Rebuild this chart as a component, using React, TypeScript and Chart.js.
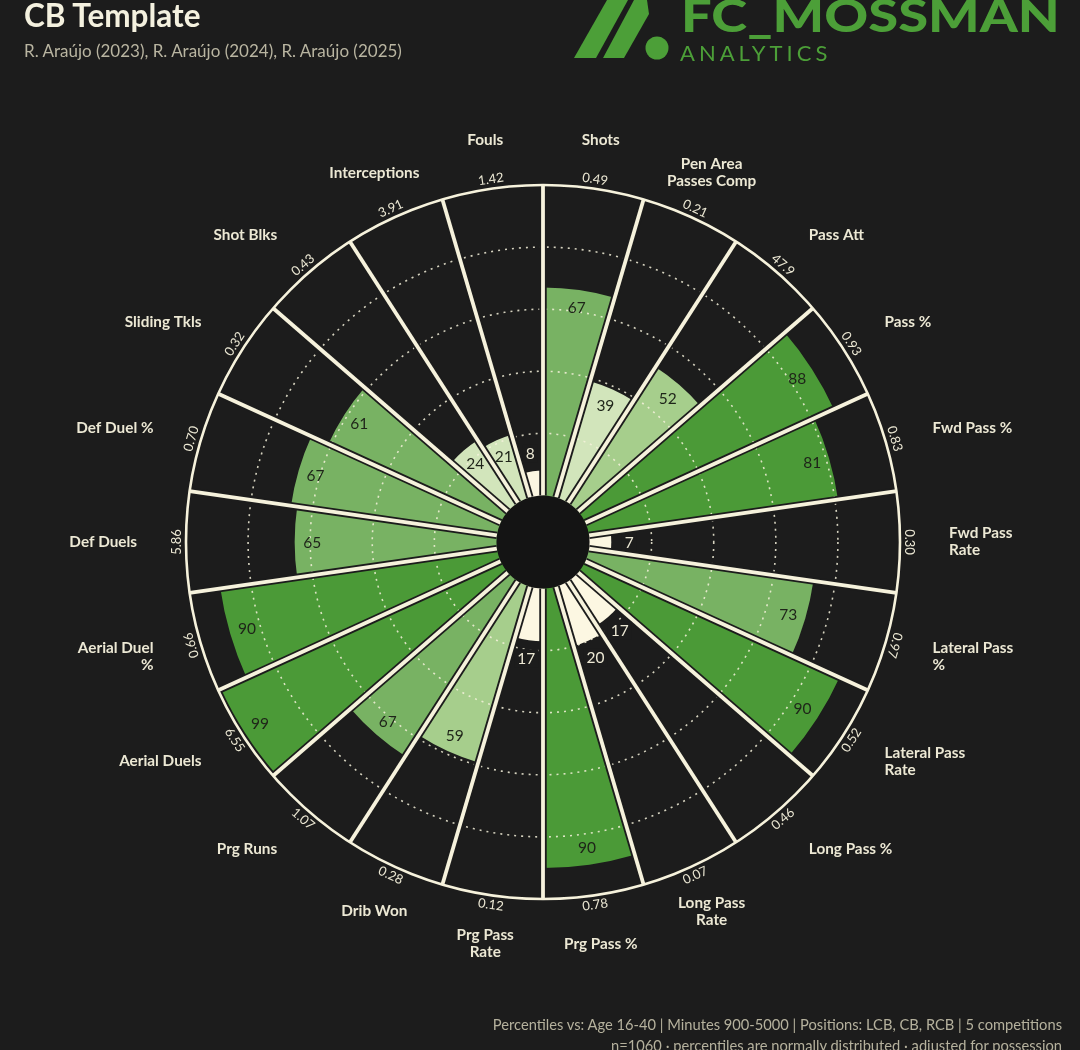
import React, { useEffect, useRef } from "react";
import { Chart, registerables } from "chart.js";

Chart.register(...registerables);

// ---------- data ----------
const categories: string[] = [
  "Shots",
  "Pen Area\nPasses Comp",
  "Pass Att",
  "Pass %",
  "Fwd Pass %",
  "Fwd Pass\nRate",
  "Lateral Pass\n%",
  "Lateral Pass\nRate",
  "Long Pass %",
  "Long Pass\nRate",
  "Prg Pass %",
  "Prg Pass\nRate",
  "Drib Won",
  "Prg Runs",
  "Aerial Duels",
  "Aerial Duel\n%",
  "Def Duels",
  "Def Duel %",
  "Sliding Tkls",
  "Shot Blks",
  "Interceptions",
  "Fouls",
];

const percentiles: number[] = [
  67, 39, 52, 88, 81, 7, 73, 90, 17, 20, 90, 17, 59, 67, 99, 90, 65, 67, 61, 24, 21, 8,
];

const rawValues: string[] = [
  "0.49", "0.21", "47.9", "0.93", "0.83", "0.30", "0.97", "0.52", "0.46", "0.07", "0.78",
  "0.12", "0.28", "1.07", "6.55", "0.66", "5.86", "0.70", "0.32", "0.43", "3.91", "1.42",
];

const gridTicks: number[] = [20, 40, 60, 80];

const titleText = "CB Template";
const subtitleText = "R. Araújo (2023), R. Araújo (2024), R. Araújo (2025)";
const footerLine1 = "Percentiles vs: Age 16-40 | Minutes 900-5000 | Positions: LCB, CB, RCB | 5 competitions";
const footerLine2 = "n=1060 · percentiles are normally distributed · adjusted for possession";

// ---------- styles ----------
const BG = "#1c1c1c";
const HOLE = "#141414";
const LINE = "#f6f2dc";
const LABEL = "#ece8d4";
const DARK_G = "#4b9a37";
const MED_G = "#78b263";
const LIGHT_G = "#a6ce8c";
const PALE_G = "#d2e5bb";
const CREAM = "#fcf7e2";
const LOGO_G = "#4c9f38";
const FONT = "Lato";

function colorFor(v: number): string {
  if (v > 80) return DARK_G;
  if (v > 60) return MED_G;
  if (v > 40) return LIGHT_G;
  if (v > 20) return PALE_G;
  return CREAM;
}

const pizzaPlugin = {
  id: "pizzaDecor",
  afterDatasetsDraw(chart: any) {
    const ctx: CanvasRenderingContext2D = chart.ctx;
    const scale = chart.scales.r;
    const cx = scale.xCenter;
    const cy = scale.yCenter;
    const R = scale.drawingArea;
    const rv = (v: number) => scale.getDistanceFromCenterForValue(v);
    const n = categories.length;
    const step = (2 * Math.PI) / n;
    const hole = rv(0);
    const pt = (a: number, r: number) => [cx + r * Math.sin(a), cy - r * Math.cos(a)];

    ctx.save();

    // dotted grid circles
    ctx.setLineDash([2, 5]);
    ctx.strokeStyle = "rgba(246,242,220,0.85)";
    ctx.lineWidth = 1.6;
    for (const t of gridTicks) {
      ctx.beginPath();
      ctx.arc(cx, cy, rv(t), 0, Math.PI * 2);
      ctx.stroke();
    }
    ctx.setLineDash([]);

    // separators: dark outline + cream core
    ctx.lineCap = "butt";
    for (let pass = 0; pass < 2; pass++) {
      ctx.strokeStyle = pass === 0 ? BG : LINE;
      ctx.lineWidth = pass === 0 ? 7.5 : 3.8;
      for (let k = 0; k < n; k++) {
        const a = k * step;
        const [x1, y1] = pt(a, hole);
        const [x2, y2] = pt(a, R);
        ctx.beginPath();
        ctx.moveTo(x1, y1);
        ctx.lineTo(x2, y2);
        ctx.stroke();
      }
    }

    // outer circle
    ctx.beginPath();
    ctx.arc(cx, cy, R, 0, Math.PI * 2);
    ctx.strokeStyle = LINE;
    ctx.lineWidth = 2.6;
    ctx.stroke();

    // hole
    ctx.beginPath();
    ctx.arc(cx, cy, hole, 0, Math.PI * 2);
    ctx.fillStyle = HOLE;
    ctx.fill();

    // value labels
    ctx.font = `15.5px ${FONT}`;
    ctx.textAlign = "center";
    ctx.textBaseline = "middle";
    percentiles.forEach((v, i) => {
      const a = (i + 0.5) * step;
      const inside = v > 20;
      const r = inside ? rv(v) - 17.5 : rv(v) + 18;
      const [x, y] = pt(a, r);
      const txt = String(v);
      if (!inside) {
        const w = ctx.measureText(txt).width;
        ctx.fillStyle = BG;
        ctx.fillRect(x - w / 2 - 3, y - 9, w + 6, 18);
        ctx.fillStyle = LABEL;
      } else {
        ctx.fillStyle = "#1e2419";
      }
      ctx.fillText(txt, x, y + 0.5);
    });

    // raw value tick labels around the circle
    ctx.font = `13px ${FONT}`;
    ctx.fillStyle = LABEL;
    rawValues.forEach((t, i) => {
      let deg = ((i + 0.5) * 360) / n;
      if (deg > 180) deg -= 360;
      const a = (deg * Math.PI) / 180;
      const [x, y] = pt(a, R + 9.5);
      let rot = deg;
      if (rot > 115) rot -= 180;
      else if (rot < -115) rot += 180;
      ctx.save();
      ctx.translate(x, y);
      ctx.rotate((rot * Math.PI) / 180);
      ctx.fillText(t, 0, 0);
      ctx.restore();
    });

    // category labels
    ctx.font = `bold 15.3px ${FONT}`;
    ctx.fillStyle = LABEL;
    const lh = 17;
    categories.forEach((c, i) => {
      const a = (i + 0.5) * step;
      const s = Math.sin(a);
      const [x, y] = pt(a, R + 49);
      ctx.textAlign = s > 0.5 ? "left" : s < -0.5 ? "right" : "center";
      const lines = c.split("\n");
      const y0 = y - ((lines.length - 1) * lh) / 2;
      lines.forEach((ln, j) => ctx.fillText(ln, x, y0 + j * lh));
    });

    ctx.restore();
  },
};

export default function App() {
  const canvasRef = useRef<HTMLCanvasElement | null>(null);

  useEffect(() => {
    document.body.style.margin = "0";
    document.body.style.background = BG;
    const canvas = canvasRef.current;
    if (!canvas) return;
    const size = 714;
    const left = 186;
    const top = 185;
    const chart = new Chart(canvas, {
      type: "polarArea",
      data: {
        labels: categories.map((c) => c.replace("\n", " ")),
        datasets: [
          {
            data: percentiles,
            backgroundColor: percentiles.map(colorFor),
            borderWidth: 0,
          },
        ],
      },
      options: {
        responsive: false,
        animation: false,
        layout: {
          padding: { left, top, right: 1080 - left - size, bottom: 1050 - top - size },
        },
        plugins: {
          legend: { display: false },
          tooltip: { enabled: false },
        },
        scales: {
          r: {
            min: -15,
            max: 100,
            ticks: { display: false },
            grid: { display: false },
            angleLines: { display: false },
            pointLabels: { display: false },
          },
        },
      } as any,
      plugins: [pizzaPlugin as any],
    });
    return () => chart.destroy();
  }, []);

  return (
    <div
      style={{
        position: "absolute",
        left: 0,
        top: 0,
        width: 1080,
        height: 1050,
        background: BG,
        overflow: "hidden",
        fontFamily: FONT,
      }}
    >
      <canvas ref={canvasRef} width={1080} height={1050} style={{ position: "absolute", left: 0, top: 0 }} />
      <div
        style={{
          position: "absolute",
          left: 24,
          top: 0,
          fontSize: 31.5,
          lineHeight: "31.5px",
          fontWeight: 700,
          color: "#f4f1df",
          whiteSpace: "nowrap",
        }}
      >
        {titleText}
      </div>
      <div
        style={{
          position: "absolute",
          left: 24,
          top: 42,
          fontSize: 17,
          lineHeight: "17px",
          color: "#b9b5a1",
          whiteSpace: "nowrap",
        }}
      >
        {subtitleText}
      </div>
      <svg
        width={110}
        height={62}
        viewBox="570 0 110 62"
        style={{ position: "absolute", left: 570, top: 0 }}
      >
        <polygon points="574,58 596,58 628,0 607,0" fill={LOGO_G} />
        <polygon points="603,58 624,58 649,14 647,0 634,0" fill={LOGO_G} />
        <circle cx={657} cy={48} r={11.5} fill={LOGO_G} />
      </svg>
      <div
        style={{
          position: "absolute",
          left: 681,
          top: -8,
          fontSize: 46,
          lineHeight: "46px",
          fontWeight: 900,
          color: LOGO_G,
          whiteSpace: "nowrap",
          transform: "scaleX(1.18)",
          transformOrigin: "left top",
        }}
      >
        FC_MOSSMAN
      </div>
      <div
        style={{
          position: "absolute",
          left: 680,
          top: 41.5,
          fontSize: 22,
          lineHeight: "22px",
          fontWeight: 400,
          letterSpacing: 4,
          color: LOGO_G,
          whiteSpace: "nowrap",
        }}
      >
        ANALYTICS
      </div>
      <div
        style={{
          position: "absolute",
          right: 18,
          top: 1017,
          fontSize: 14.7,
          lineHeight: "14.7px",
          color: "#b5b19d",
          whiteSpace: "nowrap",
          textAlign: "right",
        }}
      >
        {footerLine1}
      </div>
      <div
        style={{
          position: "absolute",
          right: 18,
          top: 1038,
          fontSize: 14.7,
          lineHeight: "14.7px",
          color: "#b5b19d",
          whiteSpace: "nowrap",
          textAlign: "right",
        }}
      >
        {footerLine2}
      </div>
    </div>
  );
}
